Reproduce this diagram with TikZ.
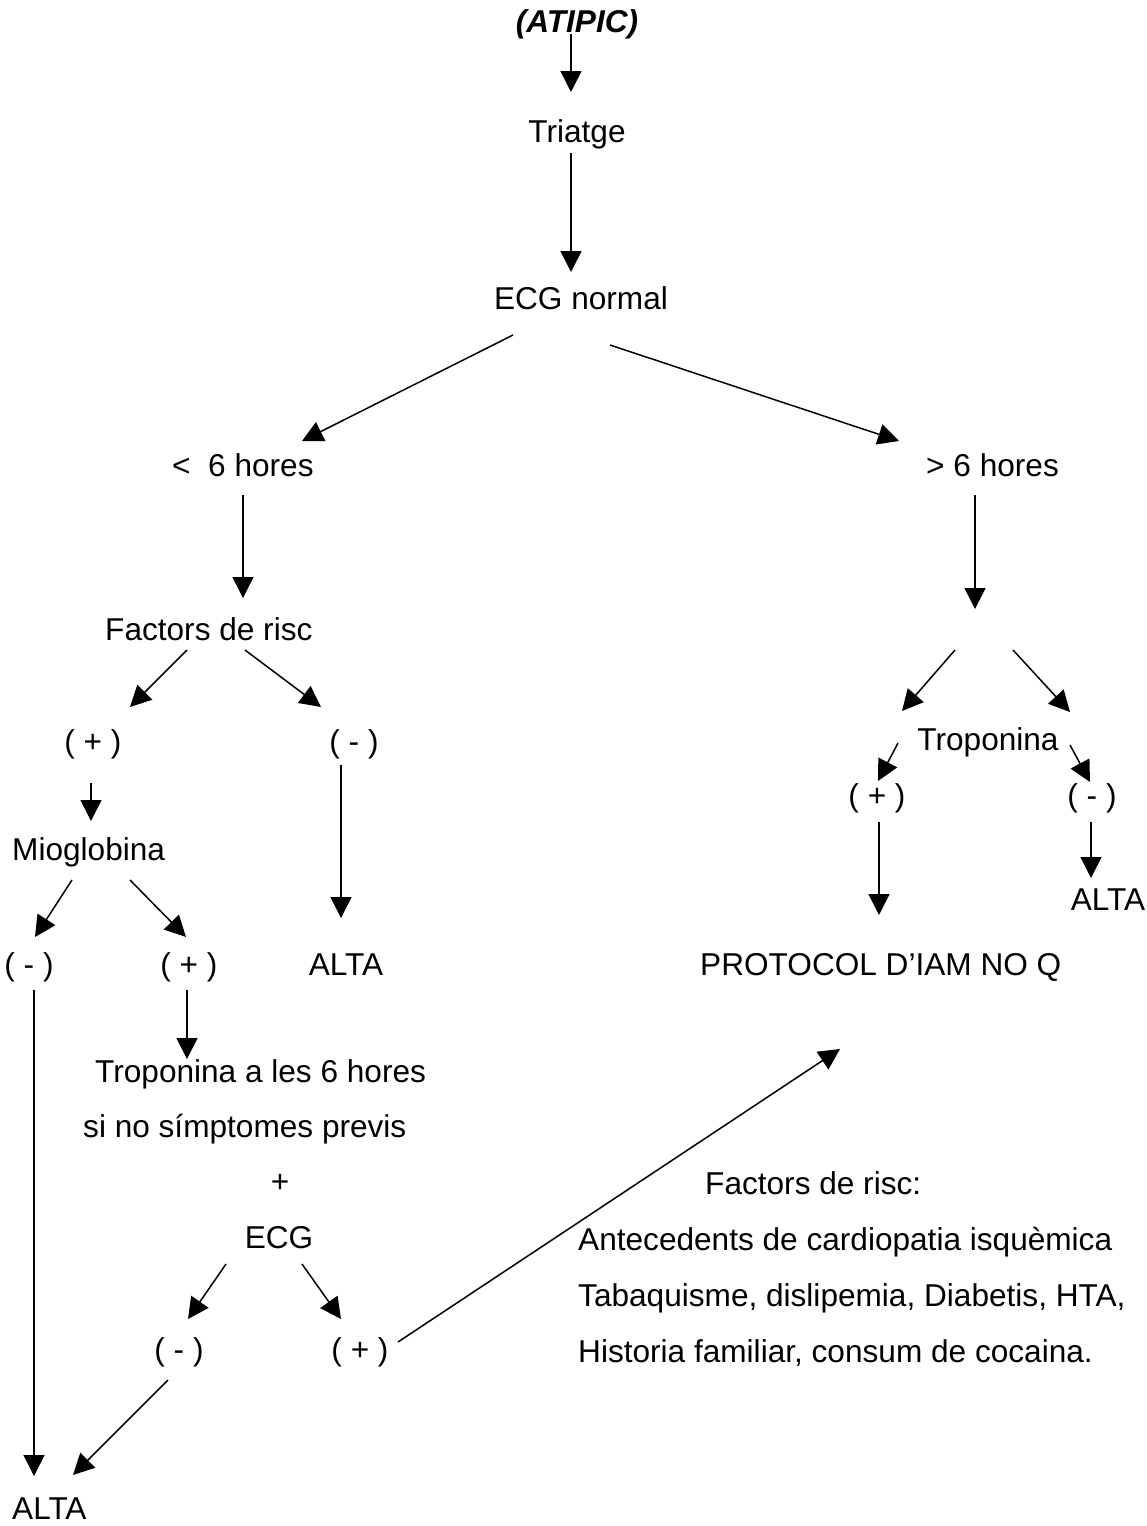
\documentclass[tikz,border=0pt]{standalone}
\usepackage{fontspec}
\setmainfont{Liberation Sans}
\usetikzlibrary{arrows.meta}
\begin{document}
\begin{tikzpicture}[x=1pt,y=-1pt,
  lbl/.style={inner sep=0pt, anchor=base, font=\fontsize{31.6}{37}\selectfont},
  lblw/.style={lbl, anchor=base west},
  arr/.style={line width=1.5pt, -{Triangle[length=21pt,width=21pt]}},
  ln/.style={line width=1.5pt}]
\useasboundingbox (0,0) rectangle (1147,1526);
% texts
\node[lbl, font=\fontsize{31.6}{37}\selectfont\bfseries\itshape] (atipic) at (577,32) {(ATIPIC)};
\node[lbl] (triatge) at (577,142) {Triatge};
\node[lbl] (ecgn) at (581,309) {ECG normal};
\node[lblw] (lt6) at (172,476) {<\ \ 6 hores};
\node[lblw] (gt6) at (926,476) {> 6 hores};
\node[lblw] (fr) at (105,640) {Factors de risc};
\node[lbl] (frp) at (93,752) {( + )};
\node[lbl] (frm) at (354,752) {( - )};
\node[lblw] (mio) at (12,860) {Mioglobina};
\node[lbl] (miom) at (29,975) {( - )};
\node[lbl] (miop) at (189,975) {( + )};
\node[lbl] (alta1) at (346,975) {ALTA};
\node[lbl] (trop) at (988,750) {Troponina};
\node[lbl] (tropp) at (877,806) {( + )};
\node[lbl] (tropm) at (1092,806) {( - )};
\node[lbl] (alta2) at (1108,910) {ALTA};
\node[lblw] (prot) at (700,975) {PROTOCOL D’IAM NO Q};
\node[lblw] (trop6) at (95,1082) {Troponina a les 6 hores};
\node[lblw] (simpt) at (83,1137) {si no símptomes previs};
\node[lbl] (plus) at (280,1192) {+};
\node[lbl] (ecg) at (279,1248) {ECG};
\node[lbl] (ecgm) at (179,1360) {( - )};
\node[lbl] (ecgp) at (360,1360) {( + )};
\node[lblw] (alta3) at (12,1519) {ALTA};
\node[lblw] (frt) at (705,1194) {Factors de risc:};
\node[lblw] (fr1) at (578,1250) {Antecedents de cardiopatia isquèmica};
\node[lblw] (fr2) at (578,1306) {Tabaquisme, dislipemia, Diabetis, HTA,};
\node[lblw] (fr3) at (578,1362) {Historia familiar, consum de cocaina.};
% connector end points
\coordinate (a1s) at (571,34);   \coordinate (a1e) at (571,92);
\coordinate (a2s) at (571,153);  \coordinate (a2e) at (571,272);
\coordinate (a3s) at (513,335);  \coordinate (a3e) at (302,441);
\coordinate (a4s) at (610,345);  \coordinate (a4e) at (899,441);
\coordinate (a5s) at (243,495);  \coordinate (a5e) at (243,598);
\coordinate (a6s) at (975,495);  \coordinate (a6e) at (975,609);
\coordinate (a7s) at (187,650);  \coordinate (a7e) at (130,707);
\coordinate (a8s) at (245,650);  \coordinate (a8e) at (321,707);
\coordinate (a9s) at (91,783);   \coordinate (a9e) at (91,821);
\coordinate (a10s) at (341,765); \coordinate (a10e) at (341,918);
\coordinate (a11s) at (72,880);  \coordinate (a11e) at (35,937);
\coordinate (a12s) at (130,880); \coordinate (a12e) at (186,937);
\coordinate (a13s) at (34,990);  \coordinate (a13e) at (34,1476);
\coordinate (a14s) at (187,990); \coordinate (a14e) at (187,1059);
\coordinate (a15s) at (226,1264);\coordinate (a15e) at (188,1319);
\coordinate (a16s) at (302,1264);\coordinate (a16e) at (341,1319);
\coordinate (a17s) at (168,1380);\coordinate (a17e) at (73,1475);
\coordinate (a18s) at (398,1342);\coordinate (a18e) at (840,1049);
\coordinate (a19s) at (955,650); \coordinate (a19e) at (902,711);
\coordinate (a20s) at (1013,650);\coordinate (a20e) at (1070,712);
\coordinate (a21s) at (898,743); \coordinate (a21e) at (878,781);
\coordinate (a22s) at (1070,745);\coordinate (a22e) at (1090,782);
\coordinate (a23s) at (879,822); \coordinate (a23e) at (879,915);
\coordinate (a24s) at (1091,822);\coordinate (a24e) at (1091,878);
% connectors
\foreach \i in {1,...,24} \draw[arr] (a\i s) -- (a\i e);
\end{tikzpicture}
\end{document}
